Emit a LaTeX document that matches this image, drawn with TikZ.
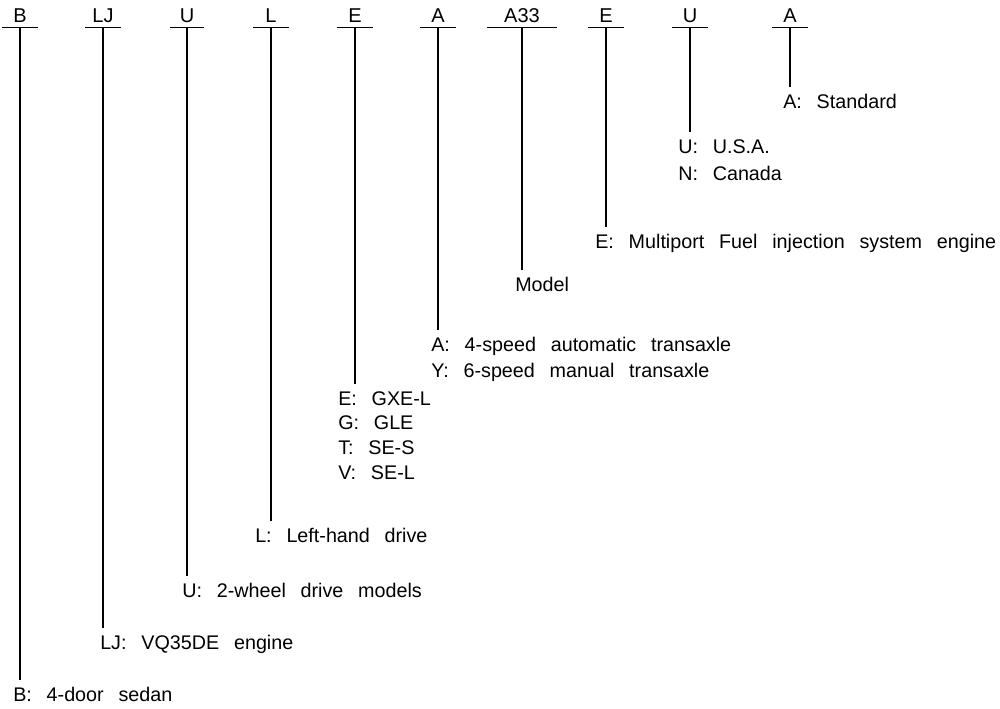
\documentclass[tikz,border=0pt]{standalone}
\usepackage{fontspec}
\setmainfont{Liberation Sans}[WordSpace=2.7]
\begin{document}
\begin{tikzpicture}[x=0.75pt,y=-0.75pt,
  code/.style={anchor=base,inner sep=0pt,font=\fontsize{15}{18}\selectfont},
  desc/.style={anchor=base west,inner sep=0pt,font=\fontsize{14.8}{18}\selectfont},
  bar/.style={line width=1pt},
  stem/.style={line width=1pt}]
\useasboundingbox (0,0) rectangle (1000,708);
% code letters: name / text / x / half bar width / stem end
\foreach \n/\t/\x/\w/\e in {c1/B/20/18/680, c2/LJ/103/18/628, c3/U/187/17/576, c4/L/271/18/521, c5/E/355/18/384, c6/A/438/18/330, c7/A33/522/35/270, c8/E/606/18/227, c9/U/690/18/132, c10/A/790/18/87}{
  \node[code] (\n) at (\x,22) {\t};
  \coordinate (\n l) at (\x-\w,27.5);
  \coordinate (\n r) at (\x+\w,27.5);
  \coordinate (\n t) at (\x,27.5);
  \coordinate (\n e) at (\x,\e);
  \draw[bar] (\n l) -- (\n r);
  \draw[stem] (\n t) -- (\n e);
}
\node[desc] (d1) at (13,701) {B: 4-door sedan};
\node[desc] (d2) at (100,649) {LJ: VQ35DE engine};
\node[desc] (d3) at (182,597) {U: 2-wheel drive models};
\node[desc] (d4) at (255,542) {L: Left-hand drive};
\node[desc] (d5a) at (338,405) {E: GXE-L};
\node[desc] (d5b) at (338,429) {G: GLE};
\node[desc] (d5c) at (338,454) {T: SE-S};
\node[desc] (d5d) at (338,479) {V: SE-L};
\node[desc] (d6a) at (431,351) {A: 4-speed automatic transaxle};
\node[desc] (d6b) at (431,377) {Y: 6-speed manual transaxle};
\node[desc] (d7) at (515,291) {Model};
\node[desc] (d8) at (595,248) {E: Multiport Fuel injection system engine};
\node[desc] (d9a) at (678,153) {U: U.S.A.};
\node[desc] (d9b) at (678,180) {N: Canada};
\node[desc] (d10) at (783,108) {A: Standard};
\end{tikzpicture}
\end{document}
